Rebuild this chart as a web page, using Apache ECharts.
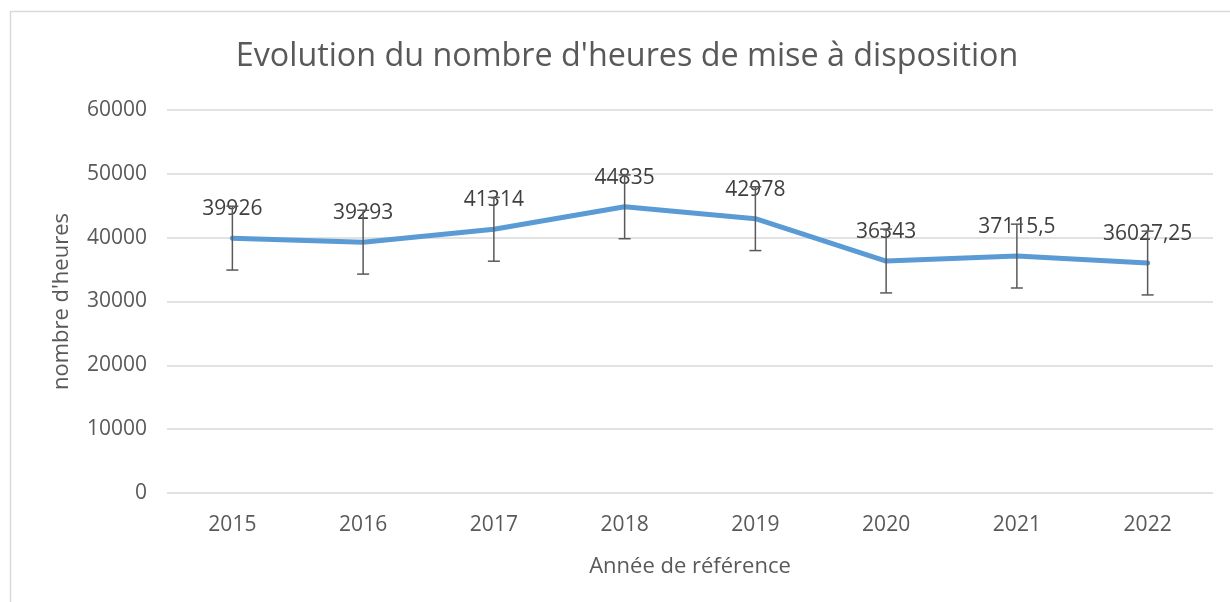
<!DOCTYPE html>
<html>
<head>
<meta charset="utf-8">
<script src="https://cdn.jsdelivr.net/npm/echarts@6/dist/echarts.min.js"></script>
<style>html,body{margin:0;padding:0;background:#fff}#c{width:1230px;height:602px}</style>
</head>
<body>
<div id="c"></div>
<script>
const years = ['2015','2016','2017','2018','2019','2020','2021','2022'];
const hours = [39926, 39293, 41314, 44835, 42978, 36343, 37115.5, 36027.25];
const errorMargin = [5000, 5000, 5000, 5000, 5000, 5000, 5000, 5000];
const yTicks = [0, 10000, 20000, 30000, 40000, 50000, 60000];

const FONT = '"Open Sans", "Liberation Sans", sans-serif';
const chart = echarts.init(document.getElementById('c'));
chart.setOption({
  animation: false,
  backgroundColor: '#fff',
  title: {
    text: "Evolution du nombre d'heures de mise à disposition",
    left: 622, top: 36, textAlign: 'center',
    textStyle: { fontFamily: FONT, fontSize: 32.3, fontWeight: 'normal', color: '#595959' }
  },
  graphic: [{
    type: 'rect', shape: { x: 10.5, y: 11.5, width: 1300, height: 700 },
    style: { fill: 'none', stroke: '#d9d9d9', lineWidth: 1.5 }, silent: true
  }],
  grid: { left: 167, right: 17, top: 110, bottom: 109 },
  xAxis: {
    type: 'category', data: years, boundaryGap: true,
    axisLine: { show: false }, axisTick: { show: false },
    axisLabel: { margin: 22, fontFamily: FONT, fontSize: 21, color: '#595959' },
    name: 'Année de référence', nameLocation: 'middle', nameGap: 63,
    nameTextStyle: { fontFamily: FONT, fontSize: 22, color: '#595959' }
  },
  yAxis: {
    type: 'value', min: yTicks[0], max: yTicks[yTicks.length - 1], interval: 10000,
    axisLine: { show: false }, axisTick: { show: false },
    splitLine: { lineStyle: { color: '#d9d9d9', width: 1.5 } },
    axisLabel: { margin: 20, fontFamily: FONT, fontSize: 21, color: '#595959', formatter: v => String(v) },
    name: "nombre d'heures", nameLocation: 'middle', nameGap: 94,
    nameTextStyle: { fontFamily: FONT, fontSize: 22, color: '#595959' }
  },
  series: [{
    type: 'line', data: hours, z: 2,
    symbol: 'circle', symbolSize: 1, showSymbol: true,
    lineStyle: { color: '#5B9BD5', width: 5, cap: 'round', join: 'round' },
    itemStyle: { color: '#5B9BD5' },
    label: {
      show: true, position: 'top', distance: 18,
      fontFamily: FONT, fontSize: 21, color: '#404040',
      formatter: p => String(p.value).replace('.', ',')
    }
  }, {
    type: 'custom', z: 5,
    data: hours.map((v, i) => [i, v - errorMargin[i], v + errorMargin[i]]),
    renderItem: function (params, api) {
      const lo = api.coord([api.value(0), api.value(1)]);
      const hi = api.coord([api.value(0), api.value(2)]);
      const w = 6;
      const st = { stroke: '#595959', lineWidth: 1.5, fill: 'none' };
      return {
        type: 'group',
        children: [
          { type: 'line', shape: { x1: lo[0], y1: lo[1], x2: hi[0], y2: hi[1] }, style: st },
          { type: 'line', shape: { x1: lo[0] - w, y1: lo[1], x2: lo[0] + w, y2: lo[1] }, style: st },
          { type: 'line', shape: { x1: hi[0] - w, y1: hi[1], x2: hi[0] + w, y2: hi[1] }, style: st }
        ]
      };
    }
  }]
});
</script>
</body>
</html>
